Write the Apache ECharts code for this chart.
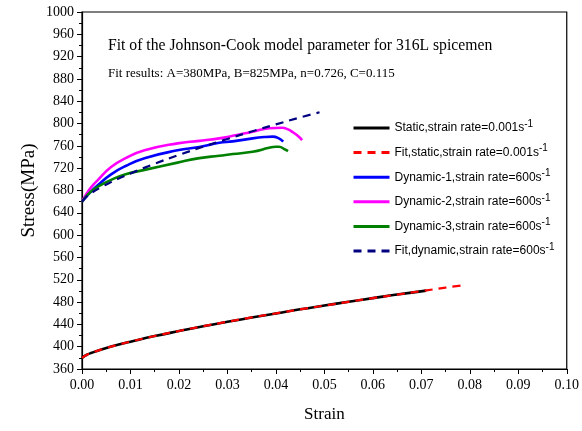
<!doctype html>
<html>

<head>
    <meta charset="utf-8">
    <title>Johnson-Cook fit 316L</title>
    <script src="https://cdn.jsdelivr.net/npm/echarts@6/dist/echarts.min.js"></script>
    <style>
        body {
            margin: 0;
        }

        #container {
            width: 582px;
            height: 431px;
            background: white;
        }
    </style>
</head>

<body>

    <div id="container"></div>

    <script type="text/javascript">
        // 静态试验 (strain rate 0.001/s)
        var staticStrain = [0, 0.001, 0.002, 0.004, 0.006, 0.008, 0.01, 0.015, 0.02, 0.025, 0.03, 0.035, 0.04, 0.045, 0.05, 0.055, 0.06, 0.065, 0.071];
        var staticStress = [380, 385.5, 389, 395, 400.2, 404.8, 409, 419, 428, 436.6, 444.6, 452.2, 459.6, 467, 473.8, 480.5, 487, 493.5, 500.5];

        // 静态拟合
        var fitStaticStrain = [0, 0.001, 0.002, 0.004, 0.006, 0.008, 0.01, 0.015, 0.02, 0.025, 0.03, 0.035, 0.04, 0.045, 0.05, 0.055, 0.06, 0.065, 0.07, 0.075, 0.079];
        var fitStaticStress = [380, 385.5, 389.1, 395, 400.1, 404.8, 409.1, 419.1, 428.2, 436.7, 444.7, 452.4, 459.7, 466.9, 473.7, 480.4, 487.1, 493.4, 499.6, 505.9, 510.7];

        // 动态试验 600/s
        var dyn1Strain = [0, 0.001, 0.002, 0.0033, 0.006, 0.009, 0.0129, 0.0197, 0.0242, 0.0283, 0.0311, 0.0352, 0.0379, 0.0393, 0.0406, 0.0415];
        var dyn1Stress = [660, 670, 679, 690, 709, 724, 738, 752, 758, 765.5, 768, 773.5, 776, 776.5, 773.5, 767.5];

        var dyn2Strain = [0, 0.001, 0.002, 0.0033, 0.006, 0.009, 0.0129, 0.0197, 0.0242, 0.0283, 0.0311, 0.0352, 0.0386, 0.0413, 0.0425, 0.0434, 0.0445, 0.0454];
        var dyn2Stress = [660, 675, 687, 699, 722, 738, 752, 764.5, 769, 773.5, 778, 785.5, 791.5, 792.5, 789.5, 785, 778, 770.5];

        var dyn3Strain = [0, 0.001, 0.002, 0.0033, 0.006, 0.009, 0.0129, 0.0197, 0.0242, 0.0283, 0.0311, 0.0352, 0.0386, 0.0399, 0.0406, 0.042, 0.0425];
        var dyn3Stress = [660, 671, 679, 687, 699, 709, 717, 730, 738, 742.3, 745.4, 749.5, 756.5, 758.5, 758.4, 753, 750.5];

        // 动态拟合
        var fitDynStrain = [0, 0.001, 0.002, 0.004, 0.006, 0.008, 0.01, 0.015, 0.02, 0.025, 0.03, 0.035, 0.04, 0.045, 0.049];
        var fitDynStress = [660, 669.6, 675.9, 686.1, 695, 703.1, 710.6, 728, 743.8, 758.5, 772.4, 785.8, 798.5, 811, 820.2];

        // 图例名称 (后面加上标 -1)
        var names = [
            'Static,strain rate=0.001s',
            'Fit,static,strain rate=0.001s',
            'Dynamic-1,strain rate=600s',
            'Dynamic-2,strain rate=600s',
            'Dynamic-3,strain rate=600s',
            'Fit,dynamic,strain rate=600s'
        ];

        function pairs(xs, ys) {
            var out = [];
            for (var i = 0; i < xs.length; i++) {
                out.push([xs[i], ys[i]]);
            }
            return out;
        }

        function lineSeries(name, data, color, dashed, width) {
            return {
                name: name,
                type: 'line',
                data: data,
                smooth: true,
                symbol: 'none',
                lineStyle: {
                    color: color,
                    width: width,
                    type: dashed ? [8, 6] : 'solid'
                },
                itemStyle: {
                    color: color
                }
            };
        }

        var serif = 'Liberation Serif';

        var option = {
            animation: false,
            backgroundColor: '#fff',
            title: [{
                text: 'Fit of the Johnson-Cook model parameter for 316L spicemen',
                left: 108,
                top: 38,
                padding: 0,
                textStyle: {
                    fontFamily: serif,
                    fontSize: 15.7,
                    fontWeight: 'normal',
                    color: '#000'
                }
            }, {
                text: 'Fit results: A=380MPa, B=825MPa, n=0.726, C=0.115',
                left: 108,
                top: 67,
                padding: 0,
                textStyle: {
                    fontFamily: serif,
                    fontSize: 13,
                    fontWeight: 'normal',
                    color: '#000'
                }
            }],
            legend: {
                orient: 'vertical',
                left: 352,
                top: 119,
                padding: 0,
                itemWidth: 36,
                itemHeight: 12,
                itemGap: 9.6,
                data: names,
                itemStyle: {
                    opacity: 0
                },
                lineStyle: {
                    width: 3
                },
                formatter: function(name) {
                    return '{t|' + name + '}{s|-1}';
                },
                textStyle: {
                    color: '#000',
                    rich: {
                        t: {
                            fontFamily: 'Liberation Sans',
                            fontSize: 12,
                            lineHeight: 18,
                            color: '#000'
                        },
                        s: {
                            fontFamily: 'Liberation Sans',
                            fontSize: 10,
                            lineHeight: 10,
                            verticalAlign: 'top',
                            color: '#000'
                        }
                    }
                }
            },
            grid: {
                left: 82,
                right: 13,
                top: 12,
                bottom: 62,
                show: true,
                borderColor: '#000',
                borderWidth: 1.2,
                containLabel: false
            },
            xAxis: {
                type: 'value',
                min: 0,
                max: 0.1,
                interval: 0.01,
                name: 'Strain',
                nameLocation: 'middle',
                nameGap: 37,
                nameTextStyle: {
                    fontFamily: serif,
                    fontSize: 17,
                    color: '#000'
                },
                axisLine: {
                    lineStyle: {
                        color: '#000',
                        width: 1.2
                    }
                },
                axisTick: {
                    inside: false,
                    length: 5,
                    lineStyle: {
                        color: '#000'
                    }
                },
                minorTick: {
                    show: true,
                    splitNumber: 2,
                    length: 3,
                    lineStyle: {
                        color: '#000'
                    }
                },
                splitLine: {
                    show: false
                },
                axisLabel: {
                    fontFamily: serif,
                    fontSize: 14,
                    color: '#000',
                    margin: 9,
                    formatter: function(v) {
                        return v.toFixed(2);
                    }
                }
            },
            yAxis: {
                type: 'value',
                min: 360,
                max: 1000,
                interval: 40,
                name: 'Stress(MPa)',
                nameLocation: 'middle',
                nameGap: 43,
                nameMoveOverlap: false,
                nameTextStyle: {
                    fontFamily: serif,
                    fontSize: 19,
                    color: '#000'
                },
                axisLine: {
                    show: true,
                    lineStyle: {
                        color: '#000',
                        width: 1.2
                    }
                },
                axisTick: {
                    show: true,
                    length: 5,
                    lineStyle: {
                        color: '#000'
                    }
                },
                minorTick: {
                    show: true,
                    splitNumber: 2,
                    length: 3,
                    lineStyle: {
                        color: '#000'
                    }
                },
                splitLine: {
                    show: false
                },
                axisLabel: {
                    fontFamily: serif,
                    fontSize: 14,
                    color: '#000',
                    margin: 8,
                    formatter: function(v) {
                        return String(v);
                    }
                }
            },
            series: [
                lineSeries(names[0], pairs(staticStrain, staticStress), '#000000', false, 2.6),
                lineSeries(names[1], pairs(fitStaticStrain, fitStaticStress), '#ff0000', true, 2.2),
                lineSeries(names[2], pairs(dyn1Strain, dyn1Stress), '#0000ff', false, 2.6),
                lineSeries(names[3], pairs(dyn2Strain, dyn2Stress), '#ff00ff', false, 2.6),
                lineSeries(names[4], pairs(dyn3Strain, dyn3Stress), '#008000', false, 2.6),
                lineSeries(names[5], pairs(fitDynStrain, fitDynStress), '#000080', true, 2.2)
            ]
        };

        var myChart = echarts.init(document.getElementById('container'));
        myChart.setOption(option);
    </script>
</body>

</html>
